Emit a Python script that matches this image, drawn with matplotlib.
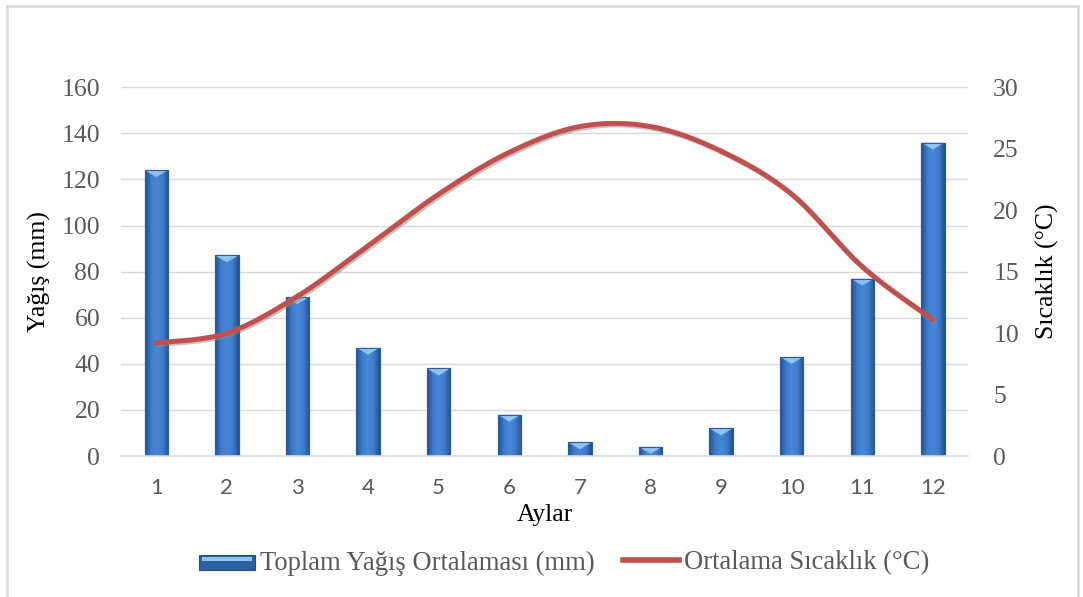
import numpy as np
import matplotlib
matplotlib.use("Agg")
import matplotlib.pyplot as plt
from matplotlib.patches import Rectangle, Polygon
from matplotlib.lines import Line2D
from matplotlib.legend_handler import HandlerBase
import matplotlib.patheffects as pe

months = ["1", "2", "3", "4", "5", "6", "7", "8", "9", "10", "11", "12"]
rain = [124, 87, 69, 47, 38, 18, 6, 4, 12, 43, 77, 136]
temp = [9.2, 10.0, 13.0, 17.1, 21.3, 24.7, 26.8, 26.8, 24.8, 21.3, 15.4, 11.1]
rain_ticks = [0, 20, 40, 60, 80, 100, 120, 140, 160]
temp_ticks = [0, 5, 10, 15, 20, 25, 30]

plt.rcParams['font.family'] = ['Liberation Serif', 'DejaVu Serif']

fig = plt.figure(figsize=(10.83, 5.97), dpi=100)
ax = fig.add_axes([0.1117, 0.236, 0.7823, 0.618])
ax2 = ax.twinx()

x = np.arange(len(months))
bars = ax.bar(x, rain, width=0.33, color="#3A73C0", edgecolor="#2B5C9E", linewidth=0.8, zorder=2)

cmap = matplotlib.colors.LinearSegmentedColormap.from_list(
    "b", ["#244F8C", "#3D7CCB", "#4A89D6", "#3D7CCB", "#244F8C"])
grad = np.linspace(0, 1, 64).reshape(1, -1)
for b in bars:
    bx, by = b.get_x(), b.get_y()
    bw, bh = b.get_width(), b.get_height()
    im = ax.imshow(grad, cmap=cmap, aspect="auto", extent=[bx, bx + bw, by, by + bh], zorder=2.1)
    im.set_clip_path(b)
    th = min(3.0, bh * 0.8)
    tri = Polygon([[bx, by + bh], [bx + bw, by + bh], [bx + bw / 2, by + bh - th]],
                  closed=True, facecolor="#8EC3F2", edgecolor="none", zorder=2.2)
    ax.add_patch(tri)
    ax.add_patch(Rectangle((bx, by), bw, bh, fill=False, edgecolor="#2B5C9E", lw=0.8, zorder=2.3))

ax.set_xlim(-0.5, len(months) - 0.5)
ax.set_ylim(0, 160)
ax.set_yticks(rain_ticks)
ax.set_xticks(x)
ax.set_xticklabels(months, fontfamily=["Lato", "DejaVu Sans"], fontsize=16)
ax.yaxis.grid(True, color="#D9D9D9", lw=1.0, zorder=0)
ax.set_axisbelow(True)
for s in ["top", "right", "left"]:
    ax.spines[s].set_visible(False)
ax.spines["bottom"].set_color("#D9D9D9")
ax.spines["bottom"].set_linewidth(1.2)
ax.tick_params(axis="y", length=0, labelsize=18.5, labelcolor="#595959", pad=15)
ax.tick_params(axis="x", length=0, labelcolor="#595959", pad=16)
ax.set_ylabel("Yağış (mm)", fontsize=18.5, color="black")
ax.set_xlabel("Aylar", fontsize=18.5, color="black")
ax.xaxis.set_label_coords(0.5, -0.13)
ax.yaxis.set_label_coords(-0.083, 0.5)

# smooth (Catmull-Rom) curve through the temperature points
def catmull(xs, ys, n=30):
    px = np.concatenate([[xs[0]], xs, [xs[-1]]])
    py = np.concatenate([[ys[0]], ys, [ys[-1]]])
    outx, outy = [], []
    for i in range(1, len(px) - 2):
        t = np.linspace(0, 1, n)
        for arr, out in ((px, outx), (py, outy)):
            p0, p1, p2, p3 = arr[i - 1], arr[i], arr[i + 1], arr[i + 2]
            out.extend(0.5 * ((2 * p1) + (-p0 + p2) * t + (2 * p0 - 5 * p1 + 4 * p2 - p3) * t ** 2
                              + (-p0 + 3 * p1 - 3 * p2 + p3) * t ** 3))
    return np.array(outx), np.array(outy)

sx, sy = catmull(x.astype(float), np.array(temp, dtype=float))
ax2.plot(sx, sy, color="#C0504D", lw=3.6, solid_capstyle="round", zorder=3,
         path_effects=[pe.SimpleLineShadow(offset=(1.2, -1.2), shadow_color="#888888", alpha=0.5),
                       pe.Normal()])
ax2.set_ylim(0, 30)
ax2.set_yticks(temp_ticks)
for s in ["top", "right", "left", "bottom"]:
    ax2.spines[s].set_visible(False)
ax2.tick_params(axis="y", length=0, labelsize=18.5, labelcolor="#595959", pad=18)
ax2.set_ylabel("Sıcaklık (°C)", fontsize=18.5, color="black")
ax2.yaxis.set_label_coords(1.08, 0.5)

class BarHandler(HandlerBase):
    def create_artists(self, legend, orig_handle, xd, yd, w, h, fontsize, trans):
        r = Rectangle((xd, yd - h * 0.05), w, h * 0.85, facecolor="#2E5F9F",
                      edgecolor="#244F8C", lw=0.8, transform=trans)
        r2 = Rectangle((xd + w * 0.05, yd + h * 0.45), w * 0.9, h * 0.2, facecolor="#8EC3F2",
                       edgecolor="none", transform=trans)
        return [r, r2]

bar_handle = Rectangle((0, 0), 1, 1)
line_handle = Line2D([0], [0], color="#C0504D", lw=4)
fig.legend([bar_handle, line_handle],
           ["Toplam Yağış Ortalaması (mm)", "Ortalama Sıcaklık (°C)"],
           handler_map={bar_handle: BarHandler()},
           loc="center", bbox_to_anchor=(0.521, 0.057), ncol=2, frameon=False,
           fontsize=19.2, handlelength=2.1, handletextpad=0.2, columnspacing=1.05,
           labelcolor="#595959")

# light border on left, top and right
for xs_, ys_ in (([0.0065, 0.0065], [0.0, 0.990]),
                 ([0.0065, 0.9955], [0.990, 0.990]),
                 ([0.9955, 0.9955], [0.0, 0.990])):
    fig.add_artist(Line2D(xs_, ys_, transform=fig.transFigure, color="#D9D9D9", lw=1.8))

fig.savefig("out.png", dpi=100)
